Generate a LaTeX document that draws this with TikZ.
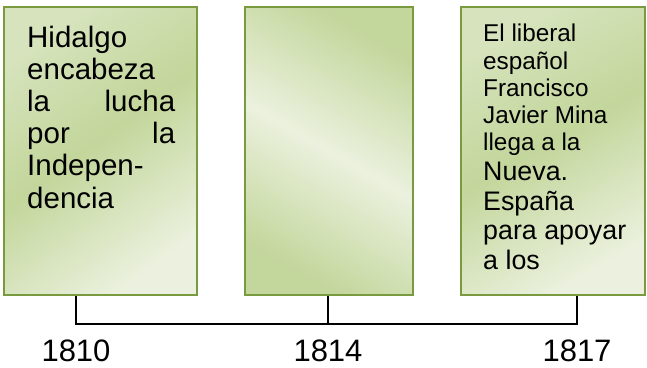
\documentclass[tikz,border=0pt]{standalone}
\usepackage{fontspec}
\setmainfont{Liberation Sans}
\usetikzlibrary{positioning}

\definecolor{gdark}{HTML}{C3D69B}
\definecolor{gmid}{HTML}{D6E3BC}
\definecolor{glight}{HTML}{EBF1DE}
\definecolor{gline}{HTML}{7A9A40}

\pgfdeclareverticalshading{boxshade}{100bp}{color(0bp)=(glight); color(25bp)=(glight); color(52bp)=(gdark); color(75bp)=(gmid); color(100bp)=(gmid)}
\pgfdeclareverticalshading{midshade}{100bp}{color(0bp)=(gdark); color(25bp)=(gdark); color(50bp)=(glight); color(75bp)=(gdark); color(100bp)=(gdark)}

\begin{document}
\begin{tikzpicture}[x=1pt, y=-1pt]
\tikzstyle{boxr}=[rectangle, draw=gline, line width=2.5pt, inner sep=0pt, shading=boxshade, shading angle=36]
\tikzstyle{textr}=[anchor=base west, inner sep=0pt, align=left]
\tikzstyle{yearstyle}=[anchor=base, inner sep=0pt, font=\fontsize{31}{35}\selectfont]
\tikzstyle{drawstyle}=[line width=1.5pt, black]

\useasboundingbox (0,0) rectangle (647,367);

\node[boxr, minimum width=193pt, minimum height=288pt] (B1810) at (100.5,151) {};
\node[boxr, minimum width=168pt, minimum height=288pt, shading=midshade, shading angle=-30] (B1814) at (329,151) {};
\node[boxr, minimum width=184pt, minimum height=288pt, shading angle=30] (B1817) at (553,151) {};

\node[textr, text width=148pt, font=\fontsize{29.5}{32.2}\selectfont] (T1810) at (27,47)
  {Hidalgo\\ encabeza\\ la\hfill lucha\\ por\hfill la\\ Indepen-\\ dencia};
\node[textr, text width=158pt] (T1817) at (483,41.7)
  {\fontsize{24.3}{27.3}\selectfont\spaceskip=0.278em\relax El liberal\\ español\\ Francisco\\ Javier Mina\\ llega a la\par
   \fontsize{26.8}{29.6}\selectfont\spaceskip=0.278em\relax Nueva.\\ España\\ para apoyar\\ a los\par};

\node[yearstyle] (Y1810) at (76,361.7) {1810};
\node[yearstyle] (Y1814) at (328,361.7) {1814};
\node[yearstyle] (Y1817) at (577,361.7) {1817};
\coordinate (bar) at (0,324);

\draw[drawstyle] (B1810.south -| Y1810) -- (Y1810 |- bar) -- (Y1817 |- bar) -- (B1817.south -| Y1817);
\draw[drawstyle] (B1814.south -| Y1814) -- (Y1814 |- bar);
\end{tikzpicture}
\end{document}
